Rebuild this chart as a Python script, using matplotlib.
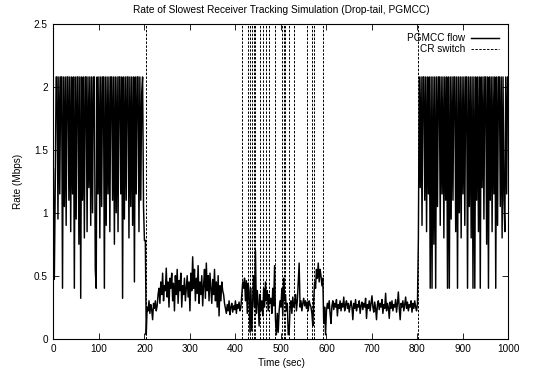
import numpy as np
import matplotlib
matplotlib.use('Agg')
import matplotlib.pyplot as plt

plt.rcParams['font.family'] = ['Liberation Sans', 'DejaVu Sans']

# PGMCC flow rate (Mbps), sampled every 2 s
rate_0_200 = [1.35, 0.47, 1.20, 2.08, 2.08, 0.95, 2.08, 1.15, 2.08, 2.08,
              0.40, 2.08, 1.05, 2.08, 0.90, 2.08, 2.08, 1.10, 2.08, 0.85,
              2.08, 1.15, 2.08, 0.40, 2.08, 0.95, 2.08, 2.08, 0.75, 2.08,
              0.32, 2.08, 1.10, 2.08, 0.80, 2.08, 2.08, 0.85, 2.08, 1.20,
              2.08, 0.90, 2.08, 1.00, 2.08, 2.08, 0.55, 0.40, 2.08, 1.15,
              2.08, 0.80, 2.08, 1.05, 2.08, 2.08, 0.40, 2.08, 0.90, 2.08,
              1.15, 2.08, 0.85, 2.08, 2.08, 1.10, 2.08, 0.75, 2.08, 1.00,
              2.08, 0.85, 2.08, 2.08, 1.15, 2.08, 0.32, 2.08, 0.95, 2.08,
              1.10, 2.08, 2.08, 0.80, 2.08, 1.05, 2.08, 0.90, 2.08, 0.45,
              2.08, 1.15, 2.08, 2.08, 0.85, 2.08, 1.10, 1.95, 2.08, 1.05,
              0.78]
rate_202_800 = [0.78, 0.03, 0.25, 0.22, 0.30, 0.20, 0.27, 0.23, 0.15, 0.28,
                0.24, 0.30, 0.22, 0.26, 0.35, 0.40, 0.28, 0.45, 0.35, 0.52,
                0.30, 0.42, 0.38, 0.56, 0.33, 0.45, 0.25, 0.48, 0.40, 0.52,
                0.30, 0.44, 0.22, 0.50, 0.35, 0.55, 0.28, 0.46, 0.38, 0.52,
                0.25, 0.42, 0.35, 0.48, 0.30, 0.40, 0.50, 0.33, 0.45, 0.22,
                0.52, 0.38, 0.65, 0.40, 0.55, 0.30, 0.48, 0.36, 0.58, 0.28,
                0.45, 0.35, 0.50, 0.26, 0.42, 0.55, 0.32, 0.60, 0.38, 0.50,
                0.30, 0.52, 0.40, 0.28, 0.47, 0.35, 0.55, 0.30, 0.45, 0.25,
                0.50, 0.18, 0.42, 0.30, 0.45, 0.38, 0.35, 0.28, 0.24, 0.20,
                0.27, 0.22, 0.30, 0.19, 0.25, 0.28, 0.21, 0.26, 0.23, 0.30,
                0.20, 0.27, 0.24, 0.29, 0.22, 0.25, 0.35, 0.45, 0.40, 0.48,
                0.30, 0.46, 0.20, 0.44, 0.38, 0.05, 0.40, 0.06, 0.30, 0.50,
                0.25, 0.70, 0.20, 0.38, 0.28, 0.10, 0.35, 0.22, 0.30, 0.18,
                0.40, 0.25, 0.45, 0.30, 0.38, 0.22, 0.35, 0.28, 0.32, 0.20,
                0.40, 0.26, 0.58, 0.15, 0.03, 0.20, 0.05, 0.22, 0.30, 0.25,
                0.40, 0.18, 0.48, 0.30, 0.35, 0.22, 0.28, 0.03, 0.04, 0.25,
                0.30, 0.20, 0.33, 0.25, 0.28, 0.35, 0.22, 0.30, 0.45, 0.60,
                0.25, 0.30, 0.22, 0.28, 0.32, 0.26, 0.30, 0.24, 0.29, 0.22,
                0.30, 0.27, 0.25, 0.20, 0.10, 0.30, 0.45, 0.40, 0.55, 0.48,
                0.60, 0.45, 0.55, 0.50, 0.42, 0.48, 0.12, 0.25, 0.03, 0.22,
                0.28, 0.24, 0.30, 0.20, 0.12, 0.26, 0.30, 0.23, 0.28, 0.25,
                0.31, 0.18, 0.27, 0.24, 0.30, 0.22, 0.28, 0.25, 0.33, 0.22,
                0.27, 0.30, 0.24, 0.28, 0.21, 0.26, 0.30, 0.25, 0.15, 0.28,
                0.24, 0.31, 0.22, 0.27, 0.25, 0.30, 0.20, 0.26, 0.29, 0.23,
                0.28, 0.25, 0.32, 0.16, 0.27, 0.24, 0.30, 0.22, 0.28, 0.34,
                0.25, 0.21, 0.29, 0.24, 0.15, 0.27, 0.30, 0.23, 0.28, 0.25,
                0.31, 0.20, 0.27, 0.24, 0.36, 0.22, 0.28, 0.25, 0.16, 0.29,
                0.24, 0.30, 0.22, 0.27, 0.25, 0.31, 0.21, 0.28, 0.37, 0.24,
                0.15, 0.28, 0.25, 0.30, 0.22, 0.27, 0.33, 0.24, 0.29, 0.22,
                0.27, 0.25, 0.30, 0.21, 0.28, 0.24, 0.30, 0.25, 0.22, 0.28]
rate_802_1000 = [0.80, 2.08, 1.20, 2.08, 0.90, 2.08, 2.08, 1.10, 2.08, 0.85,
                 2.08, 1.15, 2.08, 0.40, 2.08, 0.40, 2.08, 0.75, 2.08, 0.40,
                 2.08, 1.05, 2.08, 2.08, 0.90, 2.08, 1.15, 2.08, 0.80, 2.08,
                 1.10, 2.08, 0.40, 2.08, 0.40, 2.08, 0.95, 2.08, 1.10, 2.08,
                 2.08, 0.85, 2.08, 0.40, 2.08, 1.00, 2.08, 0.80, 2.08, 1.15,
                 2.08, 0.90, 2.08, 2.08, 0.40, 2.08, 1.05, 2.08, 0.80, 2.08,
                 0.40, 2.08, 0.40, 2.08, 1.10, 2.08, 0.85, 2.08, 0.40, 2.08,
                 1.20, 2.08, 0.95, 2.08, 2.08, 0.75, 2.08, 0.40, 2.08, 1.10,
                 2.08, 0.85, 2.08, 1.15, 2.08, 0.40, 2.08, 0.90, 2.08, 2.08,
                 1.05, 2.08, 0.80, 2.08, 1.10, 0.85, 2.08, 1.15, 2.08, 2.08]

# times of the CR switches (sec)
cr_switch = [203, 414, 428, 432, 437, 440, 444, 454, 460, 467, 474, 486,
             502, 506, 510, 517, 528, 558, 569, 572, 593, 801]

x_ticks = [0, 100, 200, 300, 400, 500, 600, 700, 800, 900, 1000]
y_ticks = [0, 0.5, 1, 1.5, 2, 2.5]
y_labels = ['0', '0.5', '1', '1.5', '2', '2.5']

t = np.concatenate([0 + 2 * np.arange(len(rate_0_200)),
                    202 + 2 * np.arange(len(rate_202_800)),
                    802 + 2 * np.arange(len(rate_802_1000))])
rate = np.array(rate_0_200 + rate_202_800 + rate_802_1000)

fig = plt.figure(figsize=(5.45, 3.77), dpi=100)
ax = fig.add_axes([0.098, 0.102, 0.835, 0.834])

ax.plot(t, rate, color='black', lw=1.05, label='PGMCC flow')
for i, s in enumerate(cr_switch):
    ax.axvline(s, color='black', lw=0.7, linestyle=(0, (2.5, 1.5)),
               label='CR switch' if i == 0 else None)

ax.set_xlim(0, 1000)
ax.set_ylim(0, 2.5)
ax.set_xticks(x_ticks)
ax.set_yticks(y_ticks)
ax.set_yticklabels(y_labels)
ax.tick_params(direction='in', top=True, right=True, length=4.5, width=0.6,
               labelsize=7.2, pad=4)
for sp in ax.spines.values():
    sp.set_linewidth(0.8)

ax.set_title('Rate of Slowest Receiver Tracking Simulation (Drop-tail, PGMCC)',
             fontsize=7.3, pad=8)
ax.set_xlabel('Time (sec)', fontsize=7.2, labelpad=3)
ax.set_ylabel('Rate (Mbps)', fontsize=7.2, labelpad=8)

ax.legend(loc='upper right', frameon=False, markerfirst=False, fontsize=7.2,
          handlelength=2.8, handletextpad=0.6, labelspacing=0.1,
          borderaxespad=0.5)

fig.savefig('out.png', dpi=100)
